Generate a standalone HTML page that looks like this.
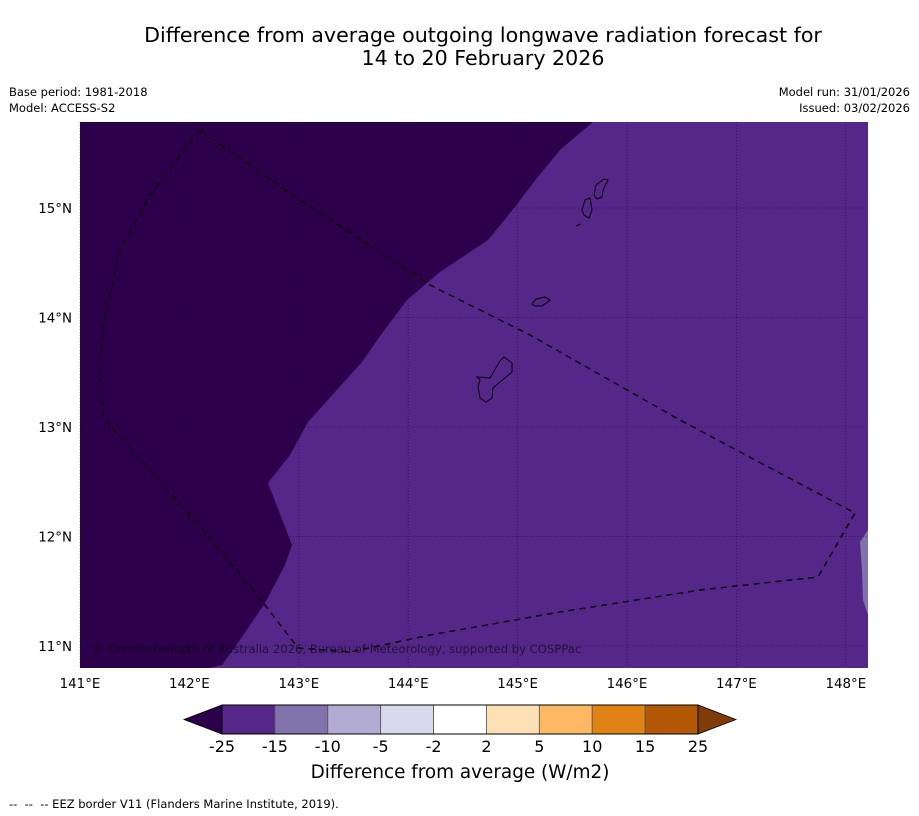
<!DOCTYPE html>
<html><head><meta charset="utf-8"><style>
body{margin:0;background:#fff;font-family:"Liberation Sans","DejaVu Sans",sans-serif;}
#wrap{position:relative;width:919px;height:816px;overflow:hidden;}
</style></head><body>
<div id="wrap">
<svg id="svg" width="919" height="816" xmlns="http://www.w3.org/2000/svg" font-family="DejaVu Sans, Liberation Sans, sans-serif">
<text x="483" y="42" text-anchor="middle" font-size="20.6">Difference from average outgoing longwave radiation forecast for</text>
<text x="483" y="65" text-anchor="middle" font-size="20.6">14 to 20 February 2026</text>
<text x="9" y="96" font-size="11.5">Base period: 1981-2018</text>
<text x="9" y="112" font-size="11.5">Model: ACCESS-S2</text>
<text x="910" y="96" font-size="11.5" text-anchor="end">Model run: 31/01/2026</text>
<text x="910" y="112" font-size="11.5" text-anchor="end">Issued: 03/02/2026</text>
<g>
<rect x="80" y="122" width="788" height="546" fill="#542788"/>
<polygon fill="#2d004b" points="80,122 593,122 560,150 537,178 515,207 488,240 440,272 407,300 383,332 362,362 335,392 308,422 290,455 268,483 292,545 285,565 265,603 240,640 222,665 210,668 80,668"/>
<polygon fill="#8073ac" points="868,530 860,542 862,570 863,600 868,615"/>
</g>
<g id="grid" stroke="#000" stroke-opacity="0.5" stroke-width="0.8" stroke-dasharray="1,2"></g>
<g fill="none" stroke="#000" stroke-width="1">
<path d="M477,377 L490,378 L500,361 L504,357 L512,363 L512,372 L500,382 L493,388 L492,398 L486,402 L480,398 L478,387 L480,380 Z"/>
<path d="M532,304 L536,299 L545,297 L550,300 L542,306 L535,306 Z"/>
<path d="M582,210 L585,200 L590,198 L592,210 L589,218 L584,215 Z"/>
<path d="M594,195 L596,185 L604,179 L608,180 L603,190 L602,197 L597,199 Z"/>
<path d="M576,226 L581,224"/>
</g>
<polyline fill="none" stroke="#000" stroke-width="1.4" stroke-dasharray="6,5" points="200,130 150,195 120,250 104,320 100,370 103,418 150,470 220,550 265,605 298,648 350,652 430,635 560,612 700,590 818,577 855,513 680,420 530,335 430,285 300,200 200,130"/>
<text x="93" y="653" font-size="11.6" fill="#000" fill-opacity="0.55">© Commonwealth of Australia 2026, Bureau of Meteorology, supported by COSPPac</text>
<g id="axes" font-size="13.4"></g>
<g id="cbar"></g>
<text x="460" y="778" text-anchor="middle" font-size="18.4">Difference from average (W/m2)</text>
<text x="9" y="808" font-size="11.5" xml:space="preserve">--  --  -- EEZ border V11 (Flanders Marine Institute, 2019).</text>
</svg>
</div>
<script>
const lonTicks=[141,142,143,144,145,146,147,148];
const latTicks=[11,12,13,14,15];
const levels=["-25","-15","-10","-5","-2","2","5","10","15","25"];
const colors=["#542788","#8073ac","#b2abd2","#d8daeb","#ffffff","#fee0b6","#fdb863","#e08214","#b35806"];
const NS="http://www.w3.org/2000/svg";
const xLon=l=>80+(l-141)*109.4;
const yLat=l=>646-(l-11)*109.5;
function mk(t,a,p){const e=document.createElementNS(NS,t);for(const k in a)e.setAttribute(k,a[k]);p.appendChild(e);return e;}
const g=document.getElementById('grid'),ax=document.getElementById('axes');
lonTicks.forEach(l=>{const x=xLon(l);
 const ln=mk('line',{x1:x,x2:x,y1:122,y2:668},g);
 
 
 const t=mk('text',{x:x,y:688,'text-anchor':'middle'},ax);t.textContent=l+'°E';
 
 });
latTicks.forEach(l=>{const y=yLat(l);
 const ln=mk('line',{x1:80,x2:868,y1:y,y2:y},g);
 
 
 const t=mk('text',{x:72,y:y+5,'text-anchor':'end'},ax);t.textContent=l+'°N';
 
 });
const cb=document.getElementById('cbar');const x0=222,w=(698-222)/colors.length,y0=705,h=29;
let tri=mk('polygon',{points:`${x0},${y0} ${x0},${y0+h} 184,${y0+h/2}`,fill:'#2d004b',stroke:'#000','stroke-width':0.8},cb);


colors.forEach((c,i)=>{const r=mk('rect',{x:x0+i*w,y:y0,width:w,height:h,fill:c,stroke:'#555','stroke-width':0.8},cb);
 
 });
tri=mk('polygon',{points:`698,${y0} 698,${y0+h} 736,${y0+h/2}`,fill:'#7f3b08',stroke:'#000','stroke-width':0.8},cb);


mk('rect',{x:x0,y:y0,width:698-x0,height:h,fill:'none',stroke:'#000','stroke-width':1},cb);
levels.forEach((v,i)=>{const t=mk('text',{x:x0+i*w,y:752,'text-anchor':'middle','font-size':16},cb);t.textContent=v;
 
 });
</script>
</body></html>
